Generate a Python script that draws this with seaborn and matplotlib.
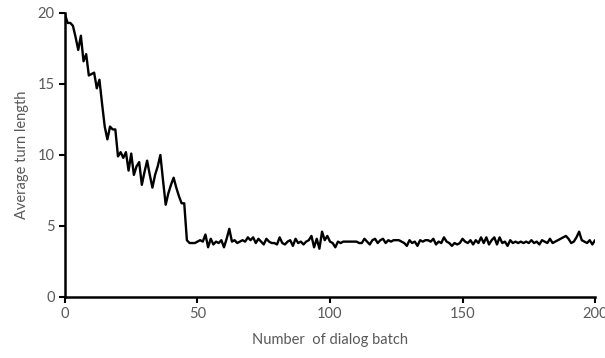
import numpy as np
import pandas as pd
import matplotlib
matplotlib.use("Agg")
import matplotlib.pyplot as plt
import seaborn as sns

# Average turn length per dialog batch
early = [19.9, 19.3, 19.3, 19.1, 18.3, 17.4, 18.4, 16.6, 17.1, 15.6,
         15.7, 15.8, 14.7, 15.3, 13.6, 12.0, 11.1, 12.0, 11.8, 11.8,
         9.9, 10.2, 9.8, 10.2, 8.9, 10.1, 8.6, 9.2, 9.5, 7.9,
         8.8, 9.6, 8.6, 7.7, 8.6, 9.2, 10.0, 8.2, 6.5, 7.3,
         7.9, 8.4, 7.7, 7.1, 6.6, 6.6, 4.0]
late = [3.8, 3.8, 3.8, 3.9, 4.0, 3.9, 4.4, 3.5, 4.1, 3.7, 3.9, 3.8, 4.0,
        3.5, 4.1, 4.8, 3.9, 4.0, 3.8, 3.9, 4.0, 3.9, 4.2,
        4.0, 4.2, 3.8, 4.1, 3.9, 3.7, 4.1, 3.9, 3.8, 3.8,
        3.7, 4.2, 3.8, 3.7, 3.9, 4.0, 3.6, 4.1, 3.8, 3.9,
        3.7, 3.9, 4.0, 4.3, 3.5, 4.1, 3.4, 4.6, 4.0, 4.3,
        3.9, 3.8, 3.5, 3.9, 3.8, 3.9, 3.9, 3.9, 3.9, 3.9,
        3.9, 3.8, 3.8, 4.1, 3.9, 3.7, 4.0, 4.1, 3.8, 4.0,
        4.1, 3.8, 4.0, 3.9, 4.0, 4.0, 4.0, 3.9, 3.8, 3.6,
        4.0, 3.8, 3.9, 3.6, 4.0, 3.9, 4.0, 4.0, 3.9, 4.1,
        3.7, 3.9, 3.8, 4.2, 3.9, 3.8, 3.6, 3.8, 3.7, 3.8,
        4.1, 3.9, 3.8, 4.0, 3.7, 4.0, 3.8, 4.2, 3.8, 4.2,
        3.7, 4.0, 4.2, 3.7, 4.2, 3.8, 3.9, 3.6, 4.0, 3.8,
        3.9, 3.8, 3.9, 3.8, 3.9, 3.8, 4.0, 3.8, 3.9, 3.7,
        4.0, 3.9, 3.8, 4.1, 3.8, 3.9, 4.0, 4.1, 4.2, 4.3,
        4.1, 3.8, 3.9, 4.2, 4.6, 4.0, 3.9, 3.8, 4.0, 3.7, 4.0]
turn_length = early + late
batch = np.arange(len(turn_length))

x_ticks = [0, 50, 100, 150, 200]
y_ticks = [0, 5, 10, 15, 20]

df = pd.DataFrame({"batch": batch, "turn_length": turn_length})

sns.set_style("white")
plt.rcParams["font.family"] = ["Lato", "DejaVu Sans"]

fig = plt.figure(figsize=(6.05, 3.58), dpi=100)
ax = fig.add_axes([0.1074, 0.1704, 0.8761, 0.7933])
sns.lineplot(data=df, x="batch", y="turn_length", color="black", linewidth=1.7, ax=ax)

ax.set_xlim(0, 200)
ax.set_ylim(0, 20)
ax.set_xticks(x_ticks)
ax.set_yticks(y_ticks)
ax.set_xlabel("Number  of dialog batch", color="#595959", fontsize=10.5, labelpad=8)
ax.set_ylabel("Average turn length", color="#595959", fontsize=10.5, labelpad=6)
ax.tick_params(axis="both", colors="black", labelcolor="#595959", labelsize=10.5,
               direction="out", length=4, width=1.5, bottom=True, left=True)
sns.despine(ax=ax)
for side in ["left", "bottom"]:
    ax.spines[side].set_color("black")
    ax.spines[side].set_linewidth(1.8)

fig.savefig("out.png", dpi=100)
